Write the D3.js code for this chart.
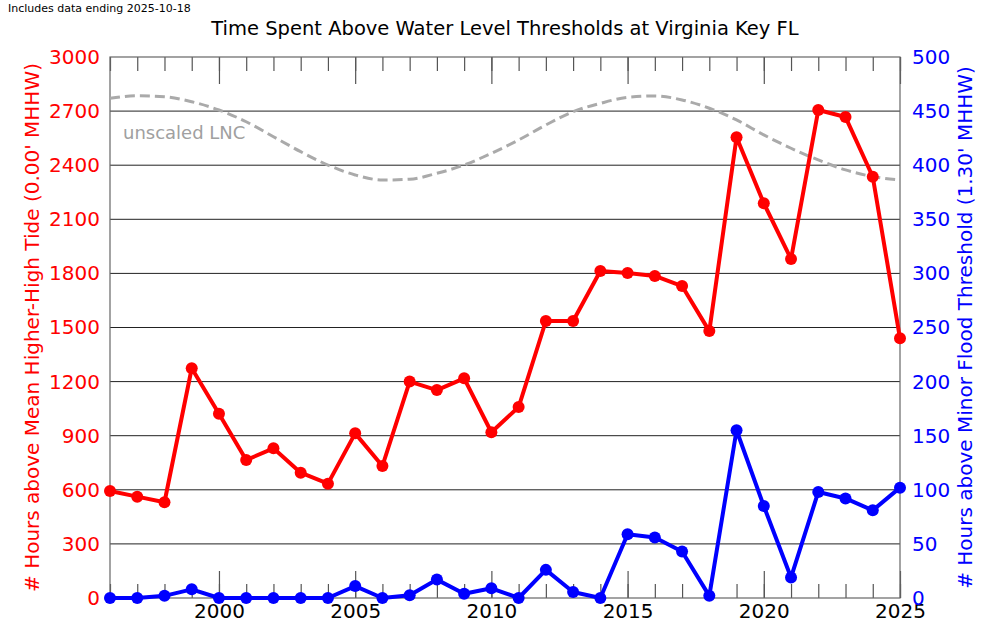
<!DOCTYPE html>
<html>
<head>
<meta charset="utf-8">
<script src="https://cdn.jsdelivr.net/npm/d3@7"></script>
<style>
  body { margin: 0; background: #fff; }
  svg { font-family: "DejaVu Sans", sans-serif; }
</style>
</head>
<body>
<div id="chart"></div>
<script>
const width = 1000,
  height = 636,
  margin = { top: 57, bottom: 38, left: 110, right: 100 },
  radius = 6;

// data
const years = d3.range(1996, 2026);
const mhhwHours = [593, 562, 531, 1274, 1022, 765, 830, 695, 634, 913,
  732, 1200, 1153, 1218, 919, 1059, 1536, 1536, 1813, 1802,
  1786, 1730, 1480, 2555, 2189, 1880, 2706, 2667, 2336, 1440];
const minorHours = [0, 0, 2, 8, 0, 0, 0, 0, 0, 11,
  0, 2.5, 17, 4, 9, 0, 26, 5.5, 0, 59,
  56, 43, 2, 155, 85, 19, 98, 92, 81, 102];
const lncValues = [2771, 2785, 2780, 2752, 2706, 2641, 2558, 2475, 2401, 2346,
  2318, 2322, 2355, 2401, 2466, 2540, 2623, 2697, 2743, 2776,
  2784, 2762, 2716, 2651, 2568, 2494, 2429, 2374, 2337, 2318];
const leftTicks = d3.range(0, 3001, 300);
const rightTicks = d3.range(0, 501, 50);
const majorYears = [2000, 2005, 2010, 2015, 2020, 2025];

const x0 = margin.left, x1 = width - margin.right;
const y0 = height - margin.bottom, y1 = margin.top;

const xScale = d3.scaleLinear().domain([1996, 2025]).range([x0, x1]);
const yLeft = d3.scaleLinear().domain([0, 3000]).range([y0, y1]);
const yRight = d3.scaleLinear().domain([0, 500]).range([y0, y1]);

const svg = d3.select("#chart").append("svg")
  .attr("width", width)
  .attr("height", height);

// grid
svg.append("g")
  .selectAll("line")
  .data(leftTicks.filter(d => d > 0 && d < 3000))
  .join("line")
  .attr("x1", x0).attr("x2", x1)
  .attr("y1", d => yLeft(d)).attr("y2", d => yLeft(d))
  .attr("stroke", "#222")
  .attr("stroke-width", 1);

// x ticks, inside on top and bottom
function xTicks(axis, y, vals, size, labels) {
  const g = svg.append("g")
    .attr("transform", `translate(0,${y})`)
    .call(axis(xScale).tickValues(vals).tickSize(-size).tickPadding(6)
      .tickFormat(labels ? d3.format("d") : ""));
  g.select(".domain").remove();
  g.selectAll(".tick line").attr("stroke", "#555").attr("stroke-width", 1.2);
  g.selectAll(".tick text").attr("fill", "#000").style("font-size", "20px")
    .style("font-family", "DejaVu Sans");
  return g;
}
xTicks(d3.axisBottom, y0, years, 14, false);
xTicks(d3.axisBottom, y0, majorYears, 27, true);
xTicks(d3.axisTop, y1, years, 14, false);
xTicks(d3.axisTop, y1, majorYears, 27, false);

// y axes (labels only)
const gl = svg.append("g")
  .attr("transform", `translate(${x0},0)`)
  .call(d3.axisLeft(yLeft).tickValues(leftTicks).tickFormat(d3.format("d"))
    .tickSize(0).tickPadding(10));
gl.select(".domain").remove();
gl.selectAll("text").attr("fill", "red").style("font-size", "20px")
  .style("font-family", "DejaVu Sans");

const gr = svg.append("g")
  .attr("transform", `translate(${x1},0)`)
  .call(d3.axisRight(yRight).tickValues(rightTicks).tickFormat(d3.format("d"))
    .tickSize(0).tickPadding(12));
gr.select(".domain").remove();
gr.selectAll("text").attr("fill", "blue").style("font-size", "20px")
  .style("font-family", "DejaVu Sans");

// spines
svg.append("rect")
  .attr("x", x0).attr("y", y1)
  .attr("width", x1 - x0).attr("height", y0 - y1)
  .attr("fill", "none")
  .attr("stroke", "#666")
  .attr("stroke-width", 1.2);

// unscaled LNC
svg.append("path")
  .datum(years.map((yr, i) => [yr, lncValues[i]]))
  .attr("fill", "none")
  .attr("stroke", "#aaa")
  .attr("stroke-width", 3)
  .attr("stroke-dasharray", "10,5")
  .attr("d", d3.line().x(d => xScale(d[0])).y(d => yLeft(d[1])).curve(d3.curveMonotoneX));

svg.append("text")
  .attr("x", 123).attr("y", 139)
  .attr("fill", "#a0a0a0")
  .style("font-size", "18px")
  .text("unscaled LNC");

// series
function series(vals, scale, color) {
  const pts = years.map((yr, i) => [yr, vals[i]]);
  svg.append("path")
    .datum(pts)
    .attr("fill", "none")
    .attr("stroke", color)
    .attr("stroke-width", 4)
    .attr("stroke-linejoin", "round")
    .attr("d", d3.line().x(d => xScale(d[0])).y(d => scale(d[1])));
  svg.append("g")
    .selectAll("circle")
    .data(pts)
    .join("circle")
    .attr("cx", d => xScale(d[0]))
    .attr("cy", d => scale(d[1]))
    .attr("r", radius)
    .attr("fill", color);
}
series(mhhwHours, yLeft, "red");
series(minorHours, yRight, "blue");

// titles
svg.append("text")
  .attr("x", (x0 + x1) / 2).attr("y", 35)
  .attr("text-anchor", "middle")
  .style("font-size", "19.5px")
  .text("Time Spent Above Water Level Thresholds at Virginia Key FL");

svg.append("text")
  .attr("x", 8).attr("y", 12)
  .style("font-size", "11px")
  .text("Includes data ending 2025-10-18");

svg.append("text")
  .attr("transform", `translate(39,${(y0 + y1) / 2}) rotate(-90)`)
  .attr("text-anchor", "middle")
  .attr("fill", "red")
  .style("font-size", "20px")
  .text("# Hours above Mean Higher-High Tide (0.00' MHHW)");

svg.append("text")
  .attr("transform", `translate(972,${(y0 + y1) / 2}) rotate(-90)`)
  .attr("text-anchor", "middle")
  .attr("fill", "blue")
  .style("font-size", "20px")
  .text("# Hours above Minor Flood Threshold (1.30' MHHW)");
</script>
</body>
</html>
